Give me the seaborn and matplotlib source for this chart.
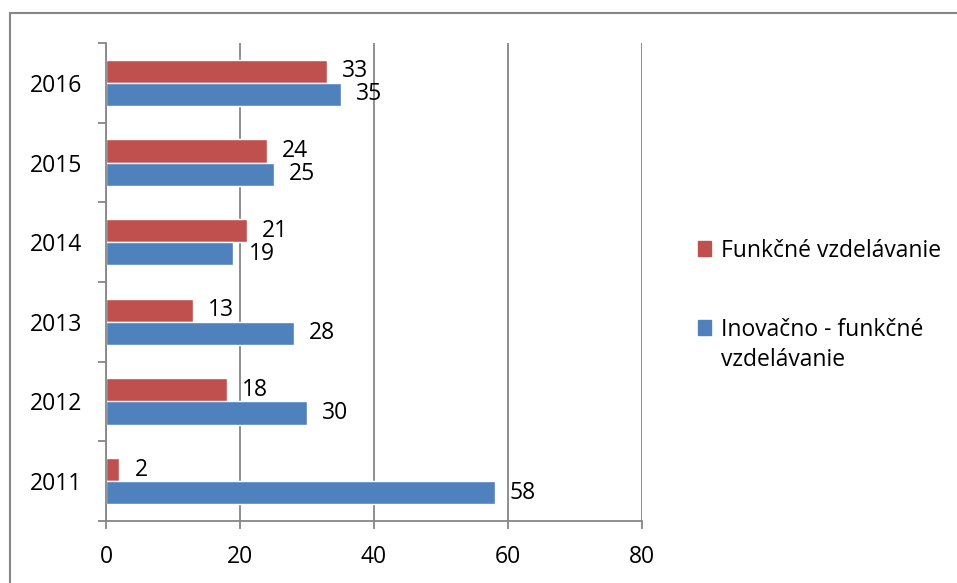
import matplotlib
matplotlib.use('Agg')
import matplotlib.pyplot as plt
from matplotlib.patches import Rectangle
import pandas as pd
import seaborn as sns

years = ['2016', '2015', '2014', '2013', '2012', '2011']
funkcne = [33, 24, 21, 13, 18, 2]
inovacno = [35, 25, 19, 28, 30, 58]
series_names = ['Funkčné vzdelávanie', 'Inovačno - funkčné vzdelávanie']
x_ticks = [0, 20, 40, 60, 80]

df = pd.DataFrame({
    'rok': years * 2,
    'hodnota': funkcne + inovacno,
    'typ': [series_names[0]] * len(years) + [series_names[1]] * len(years),
})

sns.set_style('white')
plt.rcParams['font.family'] = ['Open Sans', 'DejaVu Sans']
plt.rcParams['font.size'] = 16.5
plt.rcParams['text.color'] = 'black'
plt.rcParams['xtick.labelcolor'] = 'black'
plt.rcParams['ytick.labelcolor'] = 'black'

grid_col = '#868686'
palette = {series_names[0]: '#C0504D', series_names[1]: '#4F81BD'}

fig = plt.figure(figsize=(9.57, 5.83), dpi=100)
ax = fig.add_axes([106 / 957, 1 - 521 / 583, 536 / 957, 478 / 583])

sns.barplot(data=df, x='hodnota', y='rok', hue='typ', order=years,
            hue_order=series_names, palette=palette, orient='h',
            width=0.58, saturation=1, ax=ax, legend=False)

for cont in ax.containers:
    ax.bar_label(cont, padding=11, fontsize=16.5, color='black')

ax.set_xlim(0, 80)
ax.set_ylim(5.5, -0.5)
ax.set_xticks(x_ticks)
ax.set_xticklabels([str(t) for t in x_ticks])
ax.set_xlabel('')
ax.set_ylabel('')
ax.xaxis.grid(True, color=grid_col, lw=1.3)
ax.set_axisbelow(True)

ax.set_yticks([i - 0.5 for i in range(len(years) + 1)], minor=True)
ax.tick_params(axis='y', which='major', length=0, pad=17, labelsize=16.5)
ax.tick_params(axis='y', which='minor', length=6, width=1.3, color=grid_col, direction='out', left=True)
ax.tick_params(axis='x', length=6, width=1.3, color=grid_col, direction='out', bottom=True, pad=11, labelsize=16.5)

for s in ['top', 'right']:
    ax.spines[s].set_visible(False)
for s in ['left', 'bottom']:
    ax.spines[s].set_color(grid_col)
    ax.spines[s].set_linewidth(1.3)

# legend: second label wraps, marker stays on first line like in Excel
first_line, second_line = series_names[1].rsplit(' ', 1)
handles = [Rectangle((0, 0), 1, 1, color=palette[n]) for n in series_names]
leg = fig.legend(handles, [series_names[0], first_line], loc='upper left',
                 bbox_to_anchor=(677 / 957, 1 - 218 / 583),
                 frameon=False, fontsize=16.5, handlelength=0.6, handleheight=0.6,
                 handletextpad=0.4, labelspacing=2.4)

fig.canvas.draw()
bb = leg.get_texts()[1].get_window_extent().transformed(fig.transFigure.inverted())
fig.text(bb.x0, bb.y0 - 30 / 583, second_line, fontsize=16.5, va='bottom', ha='left')

fig.add_artist(Rectangle((10 / 957, -0.05), 1.1, 1.05 - 13 / 583, transform=fig.transFigure,
                         fill=False, edgecolor=grid_col, lw=1.5))

plt.savefig('out.png', dpi=100)
